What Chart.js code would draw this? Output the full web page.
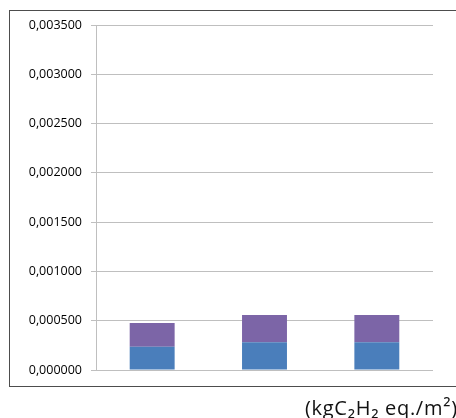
<!DOCTYPE html>
<html>
<head>
<meta charset="utf-8">
<script src="https://cdn.jsdelivr.net/npm/chart.js@4"></script>
<style>
  html, body { margin:0; padding:0; background:#fff; width:456px; height:418px; overflow:hidden; }
  #frame { position:absolute; left:9px; top:10px; width:470px; height:377px; border:1px solid #4d4d4d; box-sizing:border-box; }
  #wrap { position:absolute; left:0; top:0; width:456px; height:418px; }
  #unit { position:absolute; left:305px; top:398px; line-height:19px; font-family:"Open Sans", sans-serif; font-size:20px; letter-spacing:0.7px; color:#111; white-space:nowrap; }
  #unit span { font-size:1.05em; line-height:0; }
</style>
</head>
<body>
<div id="frame"></div>
<div id="wrap"><canvas id="c" width="456" height="418"></canvas></div>
<div id="unit">(kgC<span>₂</span>H<span>₂</span> eq./m<span>²</span>)</div>
<script>
const categories = ["A", "B", "C"];
const seriesLower = [0.000236, 0.000281, 0.000281];
const seriesUpper = [0.000241, 0.000277, 0.000277];
const yTicks = [0, 0.0005, 0.001, 0.0015, 0.002, 0.0025, 0.003, 0.0035];

new Chart(document.getElementById('c'), {
  type: 'bar',
  data: {
    labels: categories,
    datasets: [
      { data: seriesLower, backgroundColor: '#4a7ebb', barPercentage: 0.4, categoryPercentage: 1 },
      { data: seriesUpper, backgroundColor: '#7c65a7', barPercentage: 0.4, categoryPercentage: 1 }
    ]
  },
  options: {
    responsive: false,
    animation: false,
    events: [],
    layout: { padding: { left: 0, top: 25, right: 23, bottom: 48 } },
    plugins: { legend: { display: false }, tooltip: { enabled: false } },
    scales: {
      x: {
        stacked: true,
        grid: { display: false },
        border: { display: false },
        ticks: { display: false },
        afterFit: s => { s.height = 0; }
      },
      y: {
        stacked: true,
        min: 0,
        max: 0.0035,
        afterFit: s => { s.width = 96; },
        afterBuildTicks: s => { s.ticks = yTicks.map(v => ({ value: v })); },
        grid: { color: '#bfbfbf', lineWidth: 1, tickLength: 5 },
        border: { color: '#bfbfbf', width: 1 },
        ticks: {
          padding: 9,
          color: '#000',
          font: { family: 'Open Sans', size: 12.5 },
          callback: v => v.toFixed(6).replace('.', ',')
        }
      }
    }
  }
});
</script>
</body>
</html>
